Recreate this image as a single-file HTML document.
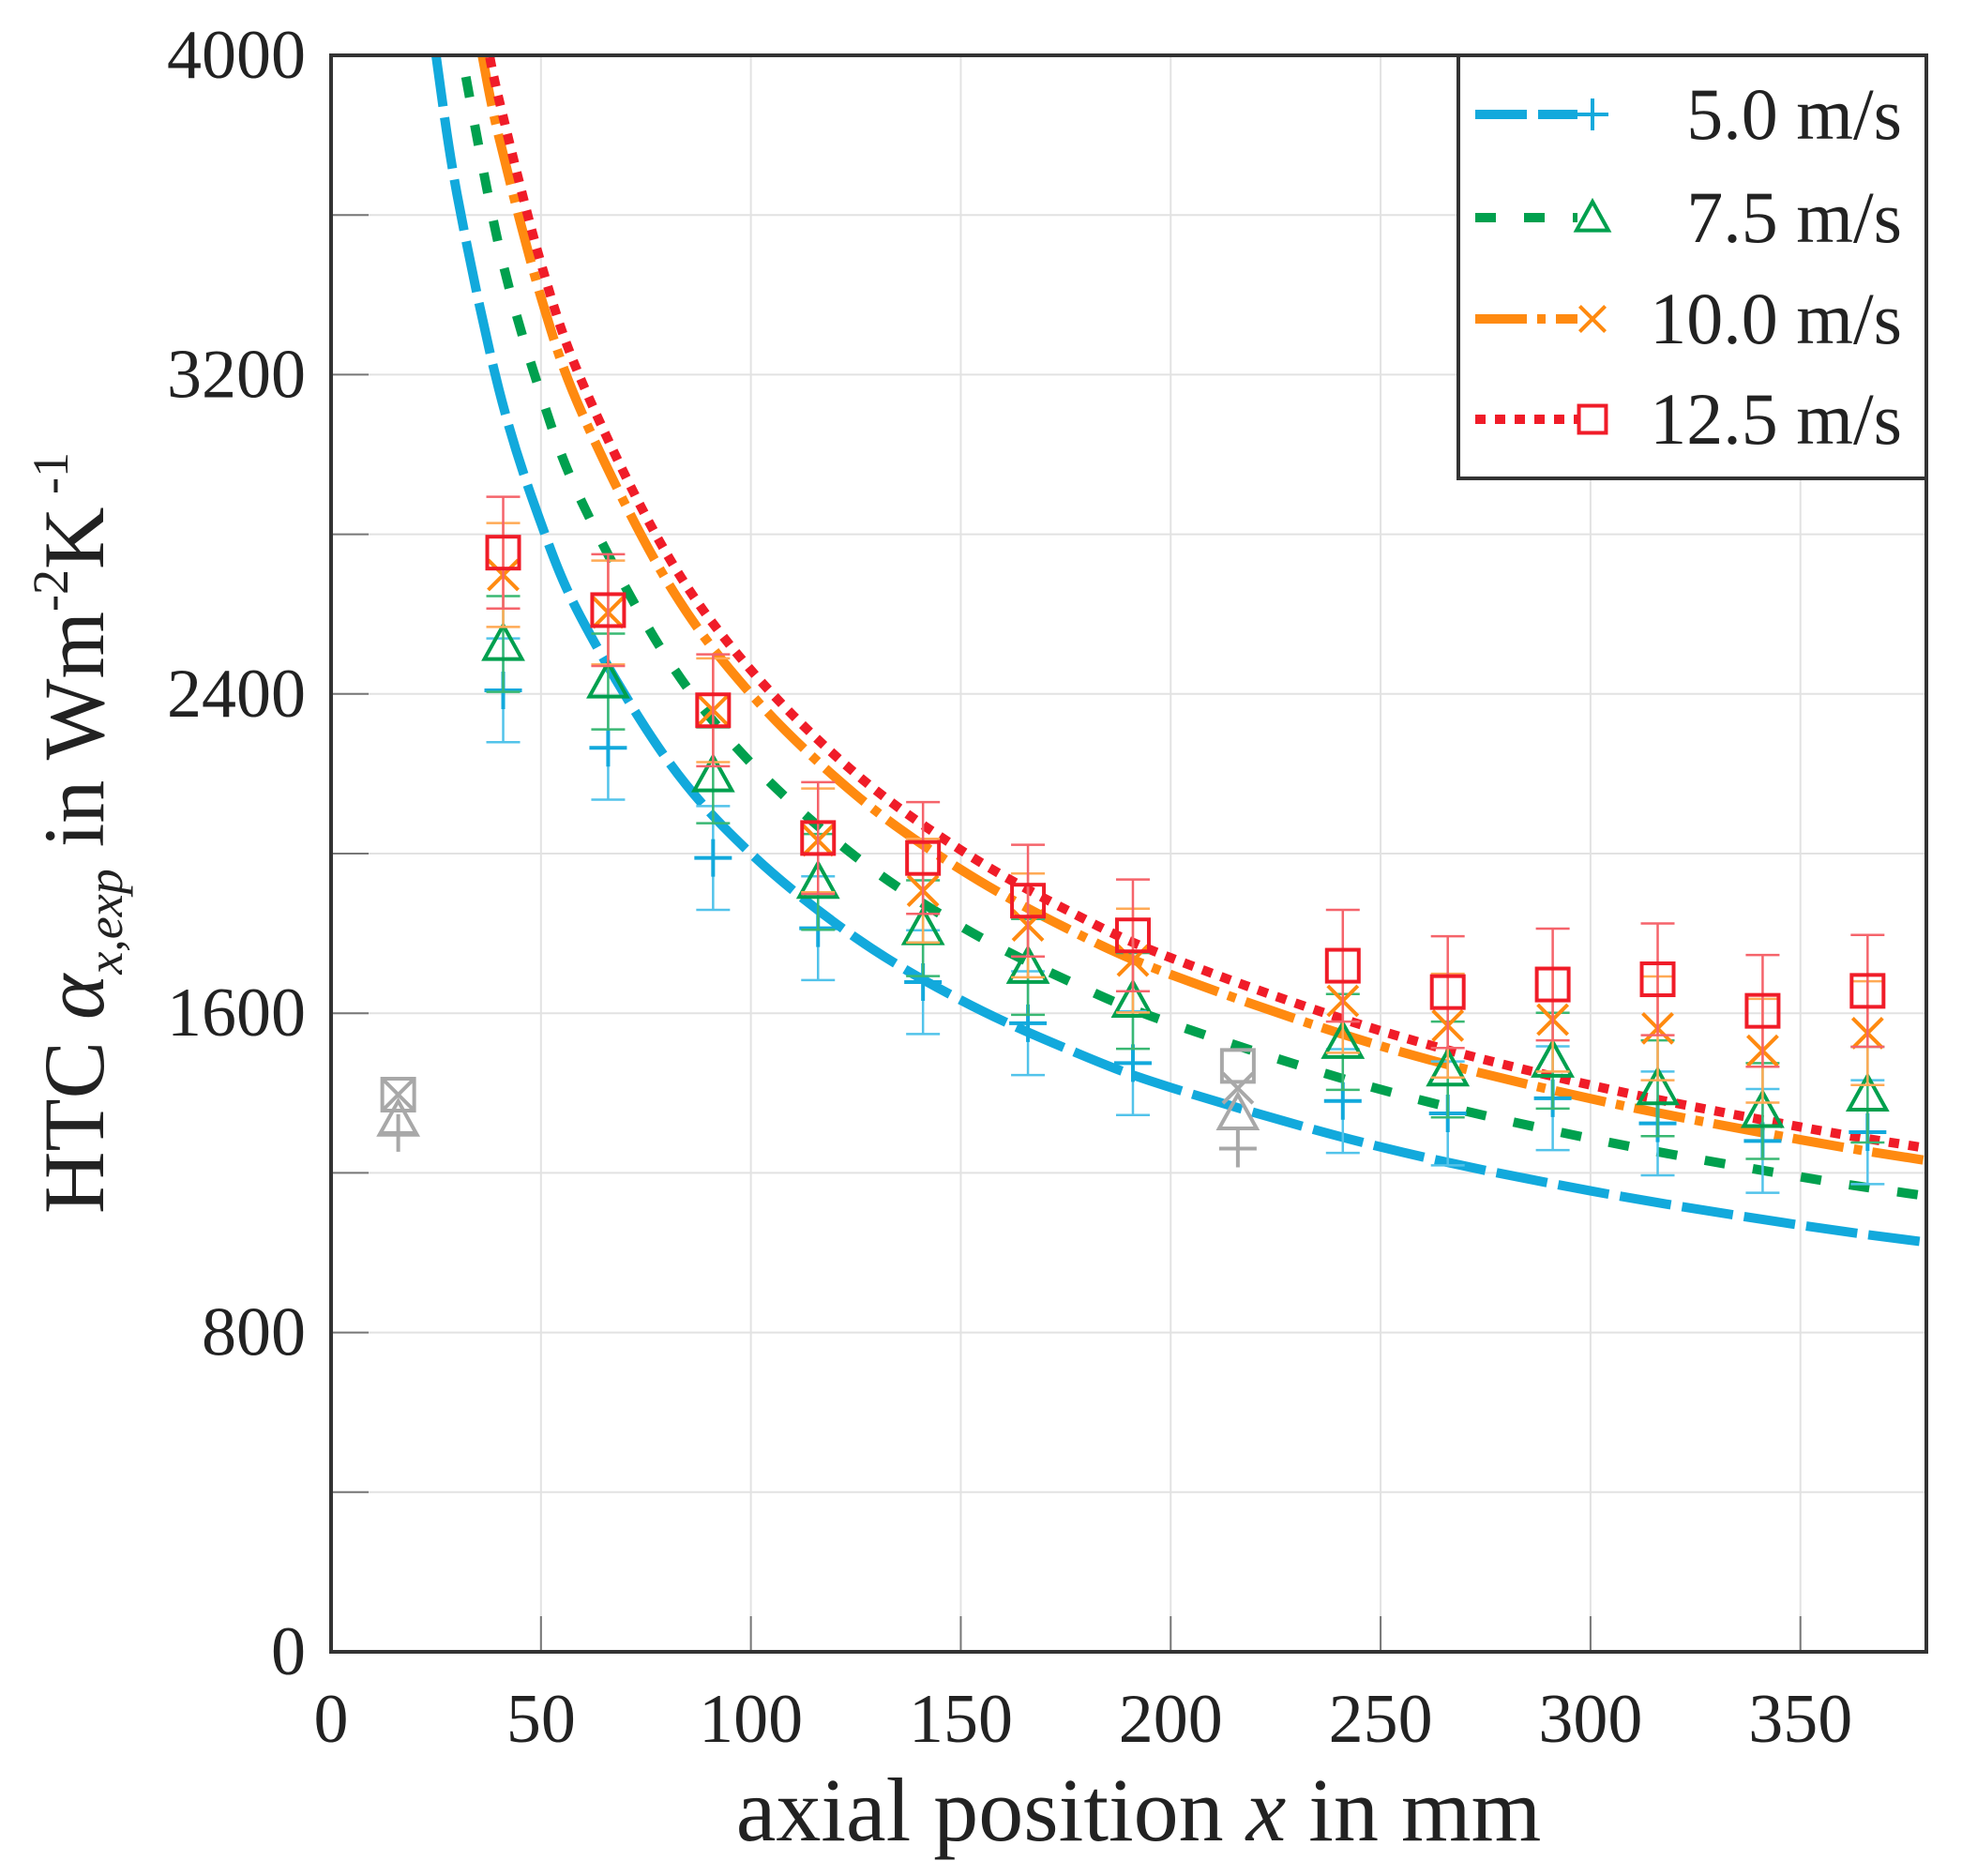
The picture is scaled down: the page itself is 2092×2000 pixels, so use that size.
<!DOCTYPE html>
<html><head><meta charset="utf-8"><style>
html,body{margin:0;padding:0;background:#fff;}
svg{display:block;font-family:"Liberation Serif","DejaVu Serif",serif;}
</style></head><body>
<svg id="chart" width="2092" height="2000" viewBox="0 0 2092 2000" xmlns="http://www.w3.org/2000/svg">
<g id="grid"></g>
<g id="curves"></g>
<g id="points"></g>
<g id="axes"></g>
<text x="1214" y="1962" font-size="96" text-anchor="middle" fill="#222">axial position <tspan font-style="italic">x</tspan> in mm</text>
<text transform="translate(110,888) rotate(-90)" font-size="92" text-anchor="middle" fill="#222">HTC <tspan font-style="italic">α</tspan><tspan font-style="italic" font-size="54" dy="20">x,exp</tspan><tspan dy="-20"> in Wm</tspan><tspan font-size="54" dy="-38">-2</tspan><tspan dy="38">K</tspan><tspan font-size="54" dy="-38"> -1</tspan></text>
<g id="legend"></g>
</svg>
<script>
const xPos = [16,41,66,91,116,141,166,191,216,241,266,291,316,341,366];
const v5  = [1300,2409,2265,1989,1813,1678,1575,1475,1261,1380,1349,1387,1324,1280,1302];
const v75 = [1333,2525,2431,2196,1929,1813,1716,1631,1349,1528,1459,1481,1412,1355,1396];
const v10 = [1396,2698,2604,2359,2033,1907,1820,1732,1412,1631,1569,1584,1562,1506,1550];
const v125= [1396,2754,2610,2359,2039,1989,1882,1795,1468,1719,1653,1672,1685,1606,1656];
const e5  = [0,130,130,130,130,130,130,130,0,130,130,130,130,130,130];
const e75 = [0,120,120,120,120,120,120,120,0,120,120,120,120,120,120];
const e10 = [0,130,130,130,130,130,130,130,0,130,130,130,130,130,130];
const e125= [0,140,140,140,140,140,140,140,0,140,140,140,140,140,140];
const grayIdx = [0,8];
const fitX5  = [25,30,40,50,60,80,100,125,150,175,200,250,300,350,380];
const fit5   = [4000,3652,3162,2828,2582,2236,2000,1789,1633,1512,1414,1265,1155,1069,1026];
const fitX75 = [30,40,50,60,80,100,125,150,175,200,250,300,350,380];
const fit75  = [4066,3521,3150,2875,2490,2227,1992,1818,1684,1575,1409,1286,1190,1142];
const fitX10 = [36,40,50,60,80,100,125,150,175,200,250,300,350,380];
const fit10  = [4000,3795,3394,3098,2683,2400,2147,1960,1814,1697,1518,1386,1283,1231];
const fitX125= [37,40,50,60,80,100,125,150,175,200,250,300,350,380];
const fit125 = [4044,3889,3479,3176,2750,2460,2200,2009,1860,1739,1556,1420,1315,1262];
const xTicks = [0,50,100,150,200,250,300,350];
const yTicks = [0,400,800,1200,1600,2000,2400,2800,3200,3600,4000];
const yLabels = ["0","","800","","1600","","2400","","3200","","4000"];
const legendLabels = ["5.0 m/s","7.5 m/s","10.0 m/s","12.5 m/s"];

const NS="http://www.w3.org/2000/svg";
const L=353,R=2054,T=59,B=1761,XMAX=380,YMAX=4000;
const sx=v=>L+(v/XMAX)*(R-L);
const sy=v=>B-(v/YMAX)*(B-T);
function mk(tag,attrs,parent){const e=document.createElementNS(NS,tag);for(const k in attrs)e.setAttribute(k,attrs[k]);parent.appendChild(e);return e;}
const grid=document.getElementById('grid'),axes=document.getElementById('axes'),curves=document.getElementById('curves'),points=document.getElementById('points'),legend=document.getElementById('legend');

const defs=mk('defs',{},document.getElementById('chart'));
const cp=mk('clipPath',{id:'pc'},defs);mk('rect',{x:L,y:T,width:R-L,height:B-T},cp);
curves.setAttribute('clip-path','url(#pc)');

xTicks.forEach(t=>{
  const g=mk('line',{x1:sx(t),x2:sx(t),y1:T,y2:B,stroke:'#e2e2e2','stroke-width':2},grid);
  
  const tk=mk('line',{x1:sx(t),x2:sx(t),y1:B,y2:B-38,stroke:'#777','stroke-width':2},axes);
  
  const lb=mk('text',{x:sx(t),y:1857,'font-size':74,'text-anchor':'middle',fill:'#222'},axes);
  lb.textContent=t;
  
});
yTicks.forEach((t,i)=>{
  const g=mk('line',{x1:L,x2:R,y1:sy(t),y2:sy(t),stroke:'#e2e2e2','stroke-width':2},grid);
  
  const tk=mk('line',{x1:L,x2:L+40,y1:sy(t),y2:sy(t),stroke:'#777','stroke-width':2},axes);
  
  if(yLabels[i]){
    const lb=mk('text',{x:326,y:sy(t)+24,'font-size':74,'text-anchor':'end',fill:'#222'},axes);
    lb.textContent=yLabels[i];
    
  }
});
const frame=mk('rect',{x:L,y:T,width:R-L,height:B-T,fill:'none',stroke:'#333','stroke-width':4},axes);


function smoothPath(xs,ys){
  const p=xs.map((x,i)=>[sx(x),sy(ys[i])]);
  let d=`M${p[0][0]},${p[0][1]}`;
  for(let i=0;i<p.length-1;i++){
    const p0=p[i-1]||p[i],p1=p[i],p2=p[i+1],p3=p[i+2]||p2;
    const c1=[p1[0]+(p2[0]-p0[0])/6,p1[1]+(p2[1]-p0[1])/6];
    const c2=[p2[0]-(p3[0]-p1[0])/6,p2[1]-(p3[1]-p1[1])/6];
    d+=`C${c1[0]},${c1[1]} ${c2[0]},${c2[1]} ${p2[0]},${p2[1]}`;
  }
  return d;
}
const series=[
 {name:'5-0',color:'#12a9dc',light:'#52c3ea',marker:'plus',vals:v5,errs:e5,fx:fitX5,fy:fit5,dash:'55 12',cap:'butt'},
 {name:'7-5',color:'#00a04e',light:'#3ab873',marker:'tri',vals:v75,errs:e75,fx:fitX75,fy:fit75,dash:'22 30',cap:'butt'},
 {name:'10-0',color:'#ff8a10',light:'#ffaa55',marker:'x',vals:v10,errs:e10,fx:fitX10,fy:fit10,dash:'55 11 9 11',cap:'butt'},
 {name:'12-5',color:'#f01c28',light:'#f5646b',marker:'sq',vals:v125,errs:e125,fx:fitX125,fy:fit125,dash:'11 10',cap:'butt'}
];
function drawMarker(type,cx,cy,color,parent,size){
  const s=size||20,w=4;
  if(type==='plus'){mk('path',{d:`M${cx-s},${cy}H${cx+s}M${cx},${cy-s}V${cy+s}`,stroke:color,'stroke-width':w,fill:'none'},parent);}
  else if(type==='tri'){mk('path',{d:`M${cx},${cy-s}L${cx+s},${cy+s*0.8}L${cx-s},${cy+s*0.8}Z`,stroke:color,'stroke-width':w,fill:'none'},parent);}
  else if(type==='x'){const k=s*0.8;mk('path',{d:`M${cx-k},${cy-k}L${cx+k},${cy+k}M${cx-k},${cy+k}L${cx+k},${cy-k}`,stroke:color,'stroke-width':w,fill:'none'},parent);}
  else {mk('rect',{x:cx-s*0.85,y:cy-s*0.85,width:s*1.7,height:s*1.7,stroke:color,'stroke-width':w,fill:'none'},parent);}
}
series.forEach(s=>{
  const c=mk('path',{d:smoothPath(s.fx,s.fy),fill:'none',stroke:s.color,'stroke-width':10,'stroke-dasharray':s.dash,'stroke-linecap':s.cap},curves);
  
});
series.forEach(s=>{
  const g=mk('g',{},points);
  
  xPos.forEach((x,i)=>{
    const gray=grayIdx.includes(i);
    const col=gray?'#a8a8a8':s.color, lcol=gray?'#a8a8a8':s.light;
    const cx=sx(x),cy=sy(s.vals[i]);
    if(s.errs[i]>0){
      const y1=sy(s.vals[i]+s.errs[i]),y2=sy(s.vals[i]-s.errs[i]);
      const eb=mk('path',{d:`M${cx},${y1}V${y2}M${cx-18},${y1}H${cx+18}M${cx-18},${y2}H${cx+18}`,stroke:lcol,'stroke-width':2.5,fill:'none'},g);
      
    }
    const mg=mk('g',{},g);
    
    drawMarker(s.marker,cx,cy,col,mg);
  });
});
const lb=mk('rect',{x:1555,y:59,width:499,height:451,fill:'#fff',stroke:'#333','stroke-width':4},legend);

const ly=[122,232,340,447];
series.forEach((s,i)=>{
  const g=mk('g',{},legend);
  
  mk('line',{x1:1573,x2:1682,y1:ly[i],y2:ly[i],stroke:s.color,'stroke-width':10,'stroke-dasharray':s.dash},g);
  drawMarker(s.marker,1698,ly[i],s.color,g,17);
  const t=mk('text',{x:2028,y:ly[i]+26,'font-size':78,'text-anchor':'end',fill:'#222'},g);
  t.textContent=legendLabels[i];
});
</script>
</body></html>
